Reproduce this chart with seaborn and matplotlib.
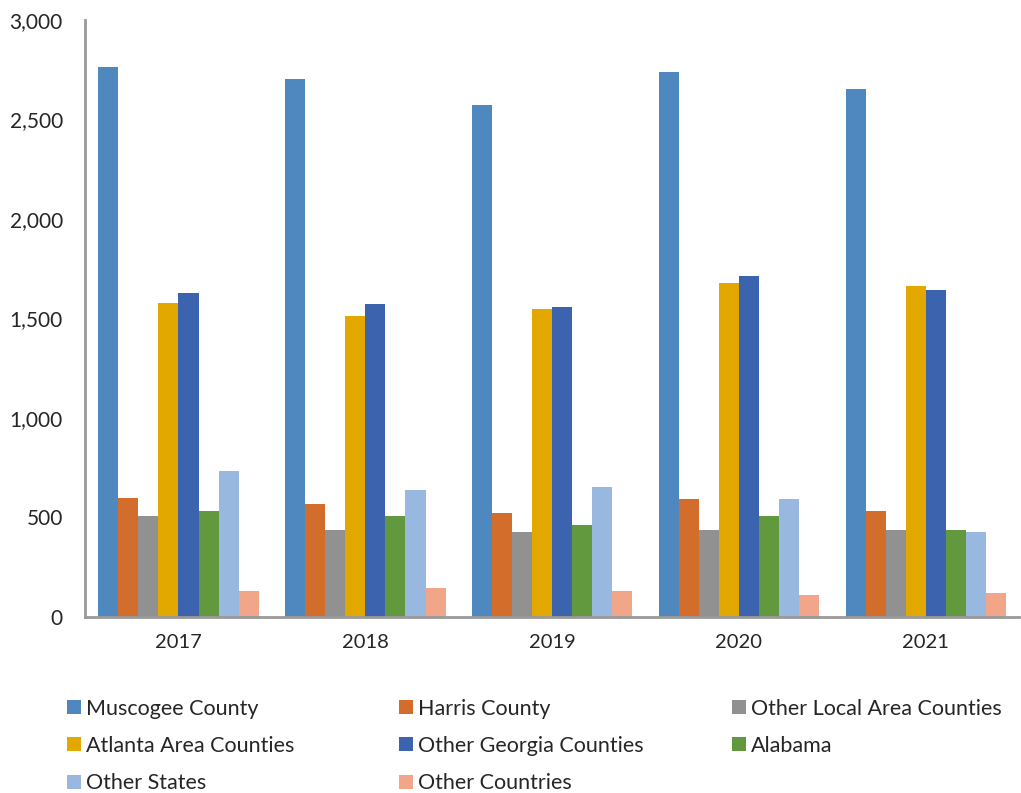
import pandas as pd
import matplotlib.pyplot as plt
import seaborn as sns
from matplotlib.lines import Line2D

# values
years = ["2017", "2018", "2019", "2020", "2021"]
series = ["Muscogee County", "Harris County", "Other Local Area Counties",
          "Atlanta Area Counties", "Other Georgia Counties", "Alabama",
          "Other States", "Other Countries"]
muscogee = [2764, 2703, 2573, 2739, 2653]
harris = [598, 568, 523, 593, 533]
other_local = [508, 437, 427, 437, 437]
atlanta = [1578, 1513, 1548, 1678, 1663]
other_georgia = [1628, 1573, 1558, 1714, 1643]
alabama = [533, 508, 462, 508, 437]
other_states = [734, 638, 653, 593, 427]
other_countries = [131, 146, 131, 111, 121]
colors = ["#4F88BE", "#D36D2B", "#919191", "#E3A800",
          "#3C64AE", "#63993E", "#99B8DF", "#F1A68A"]


def main():
    sns.set_style("white")
    plt.rcParams["font.family"] = ["Lato", "DejaVu Sans"]

    values = [muscogee, harris, other_local, atlanta,
              other_georgia, alabama, other_states, other_countries]
    rows = []
    for name, vals in zip(series, values):
        for yr, v in zip(years, vals):
            rows.append({"year": yr, "group": name, "count": v})
    df = pd.DataFrame(rows)

    fig = plt.figure(figsize=(10.21, 7.93), dpi=100)
    ax = fig.add_axes([0.0833, 0.222, 0.915, 0.753])

    sns.barplot(data=df, x="year", y="count", hue="group", hue_order=series,
                order=years, palette=colors, width=0.86, gap=0,
                saturation=1, legend=False, linewidth=0, edgecolor="none",
                ax=ax)

    ax.set_ylim(0, 3000)
    ax.set_xlim(-0.5, 4.5)
    ax.set_yticks(range(0, 3001, 500))
    ax.yaxis.set_major_formatter(plt.FuncFormatter(lambda v, p: f"{int(v):,}"))
    ax.tick_params(axis="y", length=0, pad=16, labelsize=15)
    ax.tick_params(axis="x", length=0, pad=12, labelsize=14.5)
    ax.set_xlabel("")
    ax.set_ylabel("")

    for side in ["top", "right"]:
        ax.spines[side].set_visible(False)
    for side in ["left", "bottom"]:
        ax.spines[side].set_color("#999999")
        ax.spines[side].set_linewidth(2)

    # legend: three columns, each placed on its own
    columns = [[0, 3, 6], [1, 4, 7], [2, 5]]
    lefts = [0.0637, 0.3888, 0.715]
    for idx, x0 in zip(columns, lefts):
        handles = [Line2D([], [], marker="s", linestyle="", markersize=9.4,
                          markerfacecolor=colors[i], markeredgewidth=0)
                   for i in idx]
        labels = [series[i] for i in idx]
        fig.legend(handles, labels, loc="upper left",
                   bbox_to_anchor=(x0, 0.119), frameon=False, fontsize=15.5,
                   handletextpad=0.18, handlelength=0.8, labelspacing=0.8,
                   borderpad=0, borderaxespad=0)

    fig.savefig("out.png", dpi=100)


if __name__ == "__main__":
    main()
